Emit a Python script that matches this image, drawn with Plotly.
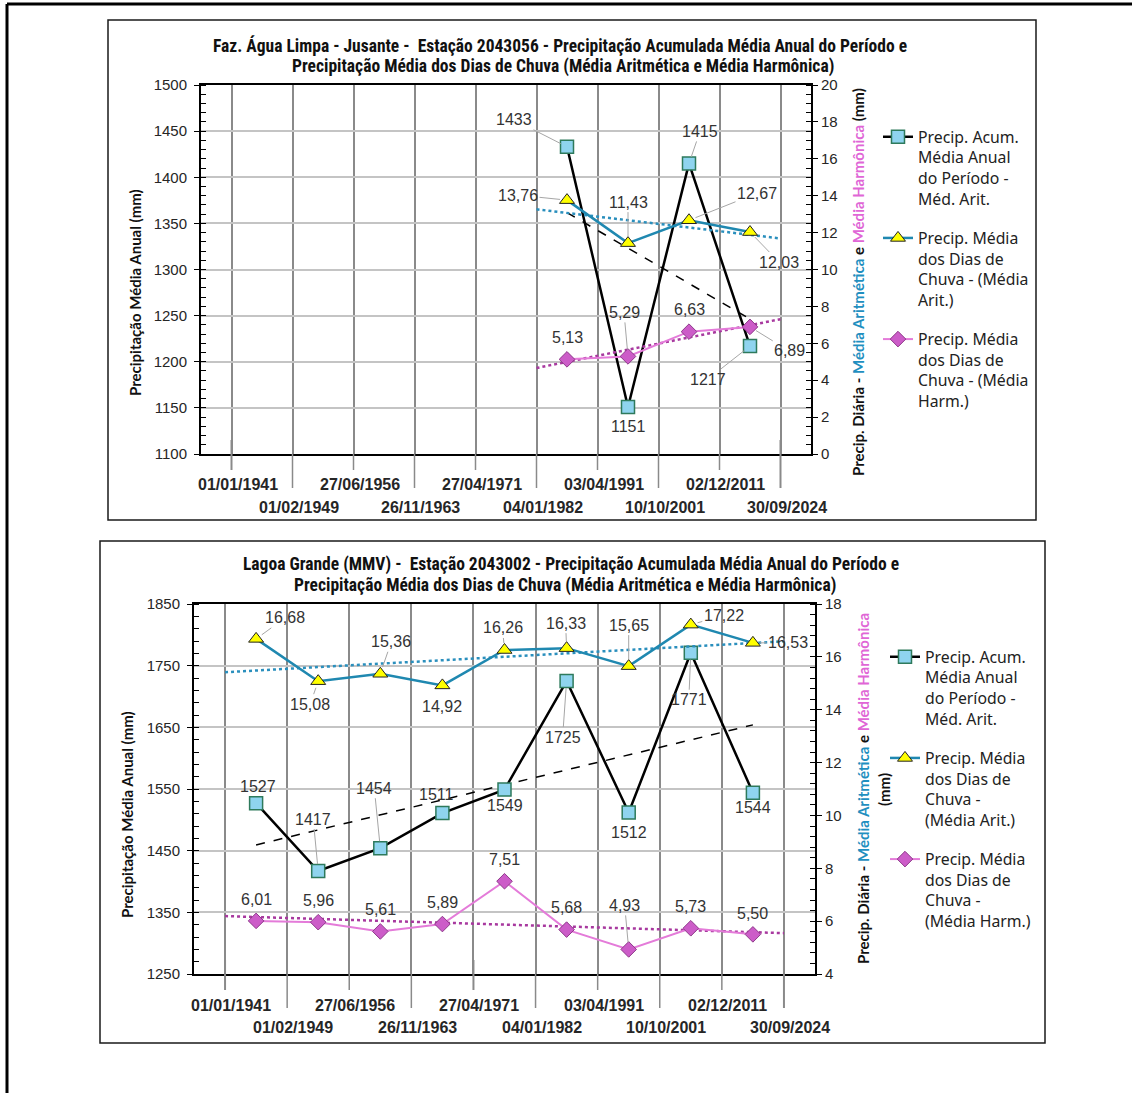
import numpy as np
import plotly.graph_objects as go

W, H = 1132, 1093

# ---------------- data ----------------
date_labels = ["01/01/1941", "01/02/1949", "27/06/1956", "26/11/1963", "27/04/1971",
               "04/01/1982", "03/04/1991", "10/10/2001", "02/12/2011", "30/09/2024"]
boundary_pos = [0.5, 1.5, 2.5, 3.5, 4.5, 5.5, 6.5, 7.5, 8.5, 9.5]

top_x = [6, 7, 8, 9]
top_acum = [1433, 1151, 1415, 1217]
top_arit = [13.76, 11.43, 12.67, 12.03]
top_harm = [5.13, 5.29, 6.63, 6.89]

bot_x = [1, 2, 3, 4, 5, 6, 7, 8, 9]
bot_acum = [1527, 1417, 1454, 1511, 1549, 1725, 1512, 1771, 1544]
bot_arit = [16.68, 15.08, 15.36, 14.92, 16.26, 16.33, 15.65, 17.22, 16.53]
bot_harm = [6.01, 5.96, 5.61, 5.89, 7.51, 5.68, 4.93, 5.73, 5.50]

top_title = ["Faz. Água Limpa - Jusante -  Estação 2043056 - Precipitação Acumulada Média Anual do Período e",
             "Precipitação Média dos Dias de Chuva (Média Aritmética e Média Harmônica)"]
bot_title = ["Lagoa Grande (MMV) -  Estação 2043002 - Precipitação Acumulada Média Anual do Período e",
             "Precipitação Média dos Dias de Chuva (Média Aritmética e Média Harmônica)"]
left_title = "Precipitação Média Anual (mm)"

# label offsets (pixels, dx, dy, leader)
top_acum_off = [(-53, -27, True), (0, 20, False), (11, -32, True), (-42, 33, True)]
top_arit_off = [(-49, -5, True), (0, -41, True), (68, -27, True), (29, 30, True)]
top_harm_off = [(0, -22, False), (-4, -44, True), (0, -22, False), (39, 24, True)]

bot_acum_off = [(2, -17, False), (-5, -52, True), (-6, -60, True), (-6, -19, False), (0, 16, False),
                (-4, 56, True), (0, 20, False), (-2, 47, True), (0, 15, False)]
bot_arit_off = [(29, -21, True), (-8, 23, True), (11, -32, True), (0, 21, False), (-2, -22, True),
                (-1, -25, True), (0, -41, True), (33, -9, True), (35, 0, True)]
bot_harm_off = [(0, -21, False), (0, -22, False), (0, -22, False), (0, -22, False), (0, -22, False),
                (0, -22, False), (-4, -44, True), (0, -22, False), (0, -21, False)]

# ---------------- styles ----------------
BLACK = "#000000"
TEAL = "#1f88b0"
PINK = "#e47bd9"
TEAL_TXT = "#1f8fc0"
PINK_TXT = "#e066d6"
VGRID = "#8a8a8a"
HGRID = "#c4c4c4"
TICKFONT = dict(family="Liberation Sans, Arial", size=15, color="#262626")
LABFONT = dict(family="Liberation Sans, Arial", size=16, color="#333333")
TITLEFONT = dict(family="Liberation Sans Narrow, Roboto Condensed, DejaVu Sans Condensed, Arial Narrow",
                 size=17.5, color="#111111")
AXTFONT = dict(family="Lato, Noto Sans, Arial", size=15, color="#111111")
DATEFONT = dict(family="Liberation Sans, Arial", size=16, color="#262626")
LEGFONT = dict(family="Noto Sans, Lato, Arial", size=15.8, color="#222222")


def px(x):
    return x / W


def py(y):
    return 1 - y / H


def fmt(v):
    return f"{v:.2f}".replace(".", ",")


fig = go.Figure()

panels = [
    dict(xa="x", ya="y", ya2="y2", xs=top_x, acum=top_acum, arit=top_arit, harm=top_harm,
         offs=(top_acum_off, top_arit_off, top_harm_off), legend="legend", fore=(5.5, 9.5)),
    dict(xa="x2", ya="y3", ya2="y4", xs=bot_x, acum=bot_acum, arit=bot_arit, harm=bot_harm,
         offs=(bot_acum_off, bot_arit_off, bot_harm_off), legend="legend2", fore=(0.5, 9.5)),
]

leg_names = [
    ["Precip. Acum.<br>Média Anual<br>do Período -<br>Méd. Arit.",
     "Precip. Média<br>dos Dias de<br>Chuva - (Média<br>Arit.)",
     "Precip. Média<br>dos Dias de<br>Chuva - (Média<br>Harm.)"],
    ["Precip. Acum.<br>Média Anual<br>do Período -<br>Méd. Arit.",
     "Precip. Média<br>dos Dias de<br>Chuva -<br>(Média Arit.)",
     "Precip. Média<br>dos Dias de<br>Chuva -<br>(Média Harm.)"],
]

annotations = []
for i, p in enumerate(panels):
    xs = np.array(p["xs"], dtype=float)
    # trend lines (least squares, as Excel linear trendline)
    a, b = np.polyfit(xs, p["acum"], 1)
    fig.add_trace(go.Scatter(x=[xs[0], xs[-1]], y=[a * xs[0] + b, a * xs[-1] + b], mode="lines",
                             line=dict(color=BLACK, width=1.5, dash="dash"), showlegend=False,
                             xaxis=p["xa"], yaxis=p["ya"], hoverinfo="skip"))
    f0, f1 = p["fore"]
    for ser, col in ((p["arit"], "#2a8fbd"), (p["harm"], "#a8399f")):
        a, b = np.polyfit(xs, ser, 1)
        fig.add_trace(go.Scatter(x=[f0, f1], y=[a * f0 + b, a * f1 + b], mode="lines",
                                 line=dict(color=col, width=2.5, dash="dot"), showlegend=False,
                                 xaxis=p["xa"], yaxis=p["ya2"], hoverinfo="skip"))
    # main series
    fig.add_trace(go.Scatter(x=p["xs"], y=p["acum"], mode="lines+markers", name=leg_names[i][0],
                             line=dict(color=BLACK, width=2.5),
                             marker=dict(symbol="square", size=13, color="#8fd4ef",
                                         line=dict(color="#2e7a5c", width=1.5)),
                             xaxis=p["xa"], yaxis=p["ya"], legend=p["legend"], legendgroup=f"a{i}"))
    fig.add_trace(go.Scatter(x=p["xs"], y=p["arit"], mode="lines+markers", name=leg_names[i][1],
                             line=dict(color=TEAL, width=2.5),
                             marker=dict(symbol="triangle-up", size=13, color="#ffff00",
                                         line=dict(color="#222222", width=1)),
                             xaxis=p["xa"], yaxis=p["ya2"], legend=p["legend"], legendgroup=f"b{i}"))
    fig.add_trace(go.Scatter(x=p["xs"], y=p["harm"], mode="lines+markers", name=leg_names[i][2],
                             line=dict(color=PINK, width=2),
                             marker=dict(symbol="diamond", size=12, color="#cc5cc8",
                                         line=dict(color="#8e3a8a", width=1)),
                             xaxis=p["xa"], yaxis=p["ya2"], legend=p["legend"], legendgroup=f"c{i}"))
    # data labels
    for ser, offs, yref, is_int in ((p["acum"], p["offs"][0], p["ya"], True),
                                    (p["arit"], p["offs"][1], p["ya2"], False),
                                    (p["harm"], p["offs"][2], p["ya2"], False)):
        for xv, v, (dx, dy, lead) in zip(p["xs"], ser, offs):
            annotations.append(dict(
                x=xv, y=v, xref=p["xa"], yref=yref, text=str(v) if is_int else fmt(v),
                showarrow=True, ax=dx, ay=dy, arrowhead=0, arrowwidth=1, standoff=7,
                arrowcolor="#a6a6a6" if lead else "rgba(0,0,0,0)", font=LABFONT))

# ---------------- axes ----------------
top_dom_x = [px(201), px(811)]
top_dom_y = [py(454), py(85)]
bot_dom_x = [px(194), px(815)]
bot_dom_y = [py(974), py(604)]

xcommon = dict(range=[0, 10], tickvals=boundary_pos, showticklabels=False, ticks="",
               showgrid=True, gridcolor=VGRID, gridwidth=1.5, zeroline=False, automargin=False,
               showline=True, linecolor=BLACK, linewidth=2, mirror=True, fixedrange=True)
ycommon = dict(zeroline=False, showline=True, linecolor=BLACK, linewidth=2, ticks="outside",
               ticklen=5, tickcolor=BLACK, tickfont=TICKFONT, automargin=False, fixedrange=True)
fig.update_layout(
    xaxis=dict(domain=top_dom_x, anchor="y", **xcommon),
    xaxis2=dict(domain=bot_dom_x, anchor="y3", **xcommon),
    yaxis=dict(domain=top_dom_y, anchor="x", range=[1100, 1500], tick0=1100, dtick=50,
               showgrid=True, gridcolor=HGRID, gridwidth=1.5, ticklabelstandoff=4,
               minor=dict(dtick=10, tick0=1100, ticks="inside", ticklen=5, tickcolor=BLACK, showgrid=False),
               **ycommon),
    yaxis2=dict(overlaying="y", side="right", anchor="x", range=[0, 20], tick0=0, dtick=2,
                showgrid=False, minor=dict(dtick=0.5, tick0=0, ticks="inside", ticklen=5, tickcolor=BLACK),
                **ycommon),
    yaxis3=dict(domain=bot_dom_y, anchor="x2", range=[1250, 1850], tick0=1250, dtick=100,
                showgrid=True, gridcolor=HGRID, gridwidth=1.5, ticklabelstandoff=4,
                minor=dict(dtick=20, tick0=1250, ticks="inside", ticklen=5, tickcolor=BLACK, showgrid=False),
                **ycommon),
    yaxis4=dict(overlaying="y3", side="right", anchor="x2", range=[4, 18], tick0=4, dtick=2,
                showgrid=False, minor=dict(dtick=0.4, tick0=4, ticks="inside", ticklen=5, tickcolor=BLACK),
                **ycommon),
)

# ---------------- date labels and tick extensions ----------------
shapes = []
for xa, ybot, up_y, low_y, stubs in (("x", 454, 484, 507, (0, 9)),
                                     ("x2", 974, 1005, 1027, (0, 4, 9))):
    for k, (pos, lab) in enumerate(zip(boundary_pos, date_labels)):
        upper = (k % 2 == 0)
        ext = 16 if upper else 34
        top_in = 14 if k in stubs else 0
        shapes.append(dict(type="line", xref=xa, yref="paper", x0=pos, x1=pos,
                           y0=py(ybot - top_in), y1=py(ybot + ext),
                           line=dict(color=VGRID, width=2 if top_in else 1.5)))
        annotations.append(dict(x=pos, y=py(up_y if upper else low_y), xref=xa, yref="paper",
                                text=f"<b>{lab}</b>", showarrow=False, xshift=6,
                                font=DATEFONT, yanchor="middle", xanchor="center"))

# frames
shapes.append(dict(type="rect", xref="paper", yref="paper", x0=px(108), x1=px(1036),
                   y0=py(520), y1=py(20), line=dict(color="#1a1a1a", width=1.5)))
shapes.append(dict(type="rect", xref="paper", yref="paper", x0=px(100), x1=px(1045),
                   y0=py(1043), y1=py(541), line=dict(color="#1a1a1a", width=1.5)))
shapes.append(dict(type="line", xref="paper", yref="paper", x0=px(7), x1=1,
                   y0=py(4), y1=py(4), line=dict(color=BLACK, width=3)))
shapes.append(dict(type="line", xref="paper", yref="paper", x0=px(7), x1=px(7),
                   y0=py(4), y1=0, line=dict(color=BLACK, width=3)))

# titles (one annotation per line)
for lines, cx, ys in ((top_title, (560, 563), (46, 67)), (bot_title, (571, 565), (564, 585))):
    for line, x, y in zip(lines, cx, ys):
        annotations.append(dict(x=px(x), y=py(y), xref="paper", yref="paper", text=f"<b>{line}</b>",
                                showarrow=False, font=TITLEFONT, yanchor="middle", xanchor="center"))

# axis titles (explicit anchors so the rotated boxes are centred on the given points)
rot = dict(xref="paper", yref="paper", textangle=-90, showarrow=False,
           xanchor="center", yanchor="middle", font=AXTFONT)
right_core = (f"Precip. Diária - <span style='color:{TEAL_TXT}'>Média Aritmética</span> e "
              f"<span style='color:{PINK_TXT}'>Média Harmônica</span>")
annotations.append(dict(x=px(135), y=py(293), text=f"<b>{left_title}</b>", **rot))
annotations.append(dict(x=px(127), y=py(815), text=f"<b>{left_title}</b>", **rot))
annotations.append(dict(x=px(858), y=py(282), text=f"<b>{right_core} (mm)</b>", **rot))
annotations.append(dict(x=px(863), y=py(789), text=f"<b>{right_core}</b>", **rot))
annotations.append(dict(x=px(884), y=py(790), text="<b>(mm)</b>", **rot))

legcommon = dict(font=LEGFONT, bgcolor="rgba(0,0,0,0)", borderwidth=0, valign="top",
                 tracegroupgap=16, xanchor="left", yanchor="top", itemclick=False)
fig.update_layout(
    width=W, height=H, margin=dict(l=0, r=0, t=0, b=0, autoexpand=False), autosize=False,
    paper_bgcolor="white", plot_bgcolor="white",
    showlegend=True,
    legend=dict(x=px(878), y=py(120), **legcommon),
    legend2=dict(x=px(885), y=py(640), **legcommon),
    annotations=annotations, shapes=shapes,
)

fig.write_html("out.html", config={"responsive": False, "displayModeBar": False},
               post_script="document.body.style.margin='0';document.body.style.overflow='hidden';")
